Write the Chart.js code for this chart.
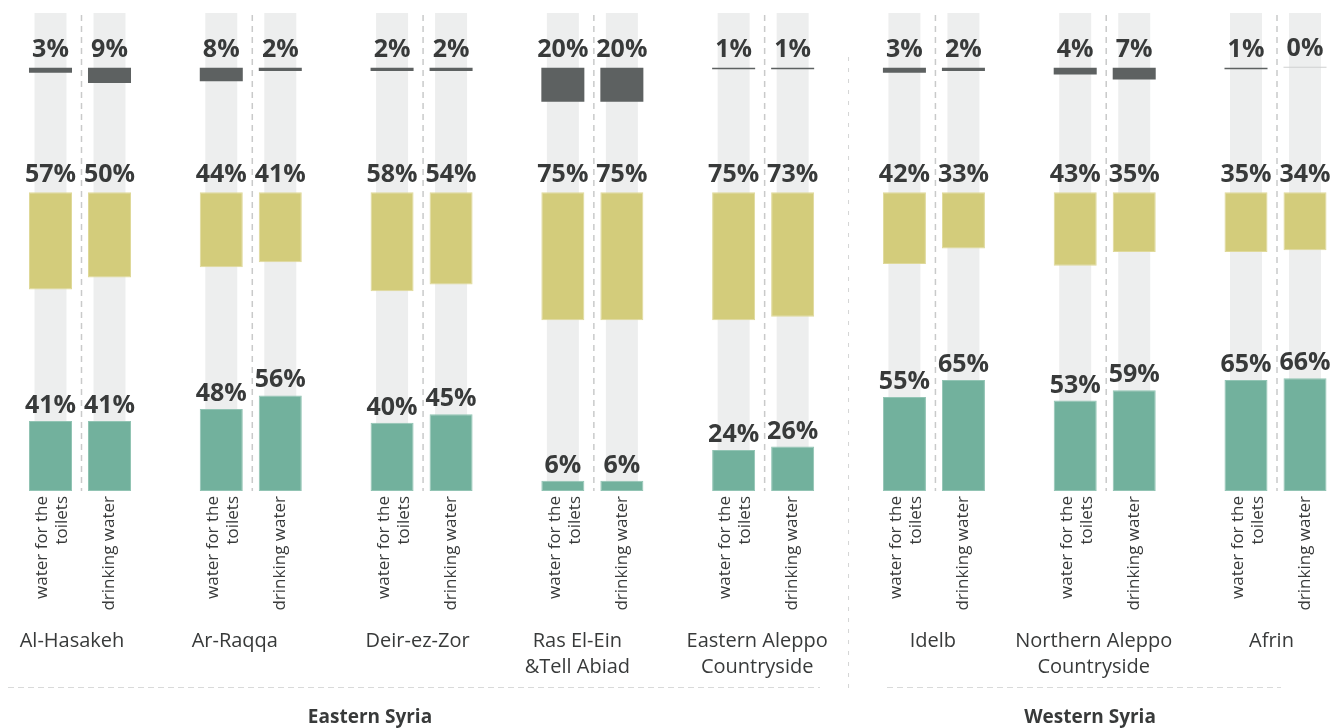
<!DOCTYPE html>
<html>
<head>
<meta charset="utf-8">
<script src="https://cdn.jsdelivr.net/npm/chart.js@4"></script>
<style>
  html, body { margin: 0; padding: 0; background: #ffffff; }
  #wrap { position: relative; width: 1341px; height: 728px; }
</style>
</head>
<body>
<div id="wrap"><canvas id="chart"></canvas></div>
<script>
// Regions (multi-line names are split into lines)
const regions = [
  ["Al-Hasakeh"],
  ["Ar-Raqqa"],
  ["Deir-ez-Zor"],
  ["Ras El-Ein", "&Tell Abiad"],
  ["Eastern Aleppo", "Countryside"],
  ["Idelb"],
  ["Northern Aleppo", "Countryside"],
  ["Afrin"]
];
const toiletsLabel = ["water for the", "toilets"];
const drinkingLabel = ["drinking water"];
const zoneNames = ["Eastern Syria", "Western Syria"];
const zoneSplit = 5; // first five regions are in the east

// Upper band (dark)
const topToilets  = [3, 8, 2, 20, 1, 3, 4, 1];
const topDrinking = [9, 2, 2, 20, 1, 2, 7, 0];
// Middle band (yellow)
const midToilets  = [57, 44, 58, 75, 75, 42, 43, 35];
const midDrinking = [50, 41, 54, 75, 73, 33, 35, 34];
// Lower band (green)
const lowToilets  = [41, 48, 40, 6, 24, 55, 53, 65];
const lowDrinking = [41, 56, 45, 6, 26, 65, 59, 66];

// Band anchors on the shared value axis
const AXIS_MAX = 280;
const MID_ANCHOR = 175;
const TOP_ANCHOR = 248;

const FONT = '"Open Sans", "DejaVu Sans", sans-serif';
const INK = '#383a3a';
const C_BG = '#edeeee', C_TOP = '#5d6161', C_MID = '#d3cc7b', C_LOW = '#72b19d';

const hanging = (vals, anchor) => vals.map(v => [anchor - v, anchor]);
const rising = vals => vals.map(v => [0, v]);
const full = () => regions.map(() => [0, AXIS_MAX]);

const common = { categoryPercentage: 0.691, barPercentage: 0.729, clip: false, borderSkipped: false, order: 0 };
const topColor = vals => c => (vals[c.dataIndex] === 0 ? '#cfd0d0' : C_TOP);

const datasets = [
  // background tracks sit underneath everything (higher order is painted first)
  Object.assign({}, common, { label: 'bgT', stack: 'T', data: full(), backgroundColor: C_BG, barPercentage: 0.542, borderWidth: 0, order: 5 }),
  Object.assign({}, common, { label: 'bgD', stack: 'D', data: full(), backgroundColor: C_BG, barPercentage: 0.542, borderWidth: 0, order: 5 }),
  Object.assign({}, common, { label: 'topT', stack: 'T', band: 'top', values: topToilets, data: hanging(topToilets, TOP_ANCHOR),
    backgroundColor: topColor(topToilets), borderWidth: 0, minBarLength: 1 }),
  Object.assign({}, common, { label: 'topD', stack: 'D', band: 'top', values: topDrinking, data: hanging(topDrinking, TOP_ANCHOR),
    backgroundColor: topColor(topDrinking), borderWidth: 0, minBarLength: 1 }),
  Object.assign({}, common, { label: 'midT', stack: 'T', band: 'mid', values: midToilets, data: hanging(midToilets, MID_ANCHOR),
    backgroundColor: C_MID, borderColor: '#dfd99a', borderWidth: 1 }),
  Object.assign({}, common, { label: 'midD', stack: 'D', band: 'mid', values: midDrinking, data: hanging(midDrinking, MID_ANCHOR),
    backgroundColor: C_MID, borderColor: '#dfd99a', borderWidth: 1 }),
  Object.assign({}, common, { label: 'lowT', stack: 'T', band: 'low', values: lowToilets, data: rising(lowToilets),
    backgroundColor: C_LOW, borderColor: '#92c4b4', borderWidth: 1 }),
  Object.assign({}, common, { label: 'lowD', stack: 'D', band: 'low', values: lowDrinking, data: rising(lowDrinking),
    backgroundColor: C_LOW, borderColor: '#92c4b4', borderWidth: 1 })
];

const nameNudge = [-8, -16, -4, -15, -6, -1, -11, -4];

function dashed(ctx, x1, y1, x2, y2, color, width, dash) {
  ctx.save();
  ctx.strokeStyle = color;
  ctx.lineWidth = width;
  ctx.setLineDash(dash);
  ctx.beginPath();
  ctx.moveTo(x1, y1);
  ctx.lineTo(x2, y2);
  ctx.stroke();
  ctx.restore();
}

function groupCenters(chart) {
  const a = chart.getDatasetMeta(0).data, b = chart.getDatasetMeta(1).data;
  return a.map((el, i) => (el.x + b[i].x) / 2);
}

const decor = {
  id: 'decor',
  beforeDatasetsDraw(chart) {
    const ctx = chart.ctx;
    const area = chart.chartArea;
    const centers = groupCenters(chart);
    // dashed divider between the two columns of each region
    centers.forEach(cx => dashed(ctx, cx + 1.5, area.top + 2, cx + 1.5, area.bottom, '#c9caca', 1.5, [6, 5]));
    // divider between the two zones
    const sx = (centers[zoneSplit - 1] + centers[zoneSplit]) / 2;
    dashed(ctx, sx, 57, sx, 690, '#d4d5d5', 1, [4, 7]);
    // underline of each zone
    dashed(ctx, 8, 687.5, 820, 687.5, '#d9dada', 1.2, [6, 4]);
    dashed(ctx, 887, 687.5, 1281, 687.5, '#d9dada', 1.2, [6, 4]);
  },
  afterDatasetsDraw(chart) {
    const ctx = chart.ctx;
    const area = chart.chartArea;
    ctx.save();
    // value labels above each bar
    ctx.fillStyle = INK;
    ctx.font = 'bold 25px ' + FONT;
    ctx.textAlign = 'center';
    ctx.textBaseline = 'alphabetic';
    chart.data.datasets.forEach((ds, di) => {
      if (!ds.values) return;
      const meta = chart.getDatasetMeta(di);
      meta.data.forEach((el, i) => {
        const top = Math.min(el.y, el.base);
        const gap = ds.band === 'low' ? 8 : 10.5;
        ctx.fillText(ds.values[i] + '%', el.x, top - gap);
      });
    });

    // rotated column labels under the bars
    ctx.font = '17px ' + FONT;
    ctx.textAlign = 'right';
    ctx.textBaseline = 'middle';
    const drawRot = (x, lines) => {
      ctx.save();
      ctx.translate(x, area.bottom + 5);
      ctx.rotate(-Math.PI / 2);
      if (lines.length === 1) {
        ctx.fillText(lines[0], 0, 0);
      } else {
        ctx.fillText(lines[0], 0, -8);
        ctx.fillText(lines[1], 0, 12);
      }
      ctx.restore();
    };
    chart.getDatasetMeta(0).data.forEach(el => drawRot(el.x, toiletsLabel));
    chart.getDatasetMeta(1).data.forEach(el => drawRot(el.x, drinkingLabel));

    // region names
    const centers = groupCenters(chart);
    ctx.font = '20px ' + FONT;
    ctx.textAlign = 'center';
    ctx.textBaseline = 'alphabetic';
    regions.forEach((lines, i) => {
      lines.forEach((t, k) => ctx.fillText(t, centers[i] + nameNudge[i], 647 + k * 25.5));
    });

    // zone titles
    ctx.font = 'bold 19px ' + FONT;
    ctx.fillText(zoneNames[0], 370, 723);
    ctx.fillText(zoneNames[1], 1090, 723);
    ctx.restore();
  }
};

new Chart(document.getElementById('chart'), {
  type: 'bar',
  data: { labels: regions.map(r => r.join(' ')), datasets },
  options: {
    responsive: true,
    maintainAspectRatio: false,
    animation: false,
    layout: { padding: { left: 80, right: 65.5, top: 13, bottom: 237 } },
    plugins: { legend: { display: false }, tooltip: { enabled: false } },
    scales: {
      x: { type: 'category', offset: false, display: false, grid: { display: false } },
      y: { min: 0, max: AXIS_MAX, stacked: false, display: false, grid: { display: false } }
    }
  },
  plugins: [decor]
});
</script>
</body>
</html>
